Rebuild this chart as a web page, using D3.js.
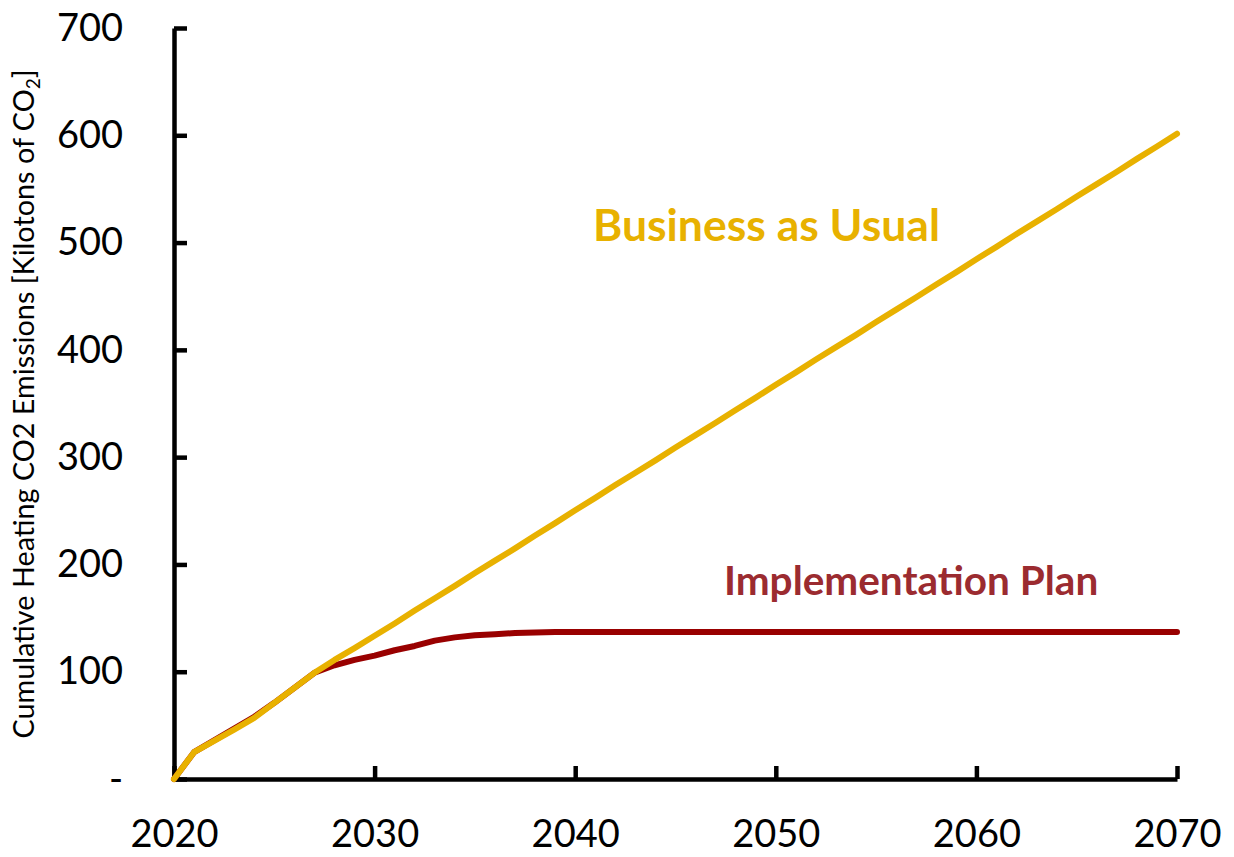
<!DOCTYPE html>
<html>
<head>
<meta charset="utf-8">
<script src="https://cdn.jsdelivr.net/npm/d3@7"></script>
<style>
  html, body { margin: 0; padding: 0; background: #fff; }
  svg { display: block; }
  text { font-family: Lato, "Open Sans", sans-serif; }
</style>
</head>
<body>
<svg id="chart" width="1234" height="857"></svg>
<script>
// ---- data ----
const years = d3.range(2020, 2071);
const businessAsUsual = [
  0, 25, 35.5, 46, 57, 71, 85, 99, 111, 122,
  133.5, 145, 157, 168.5, 180, 192, 203.5, 215, 227, 238.5,
  250.5, 262, 274, 285.5, 297, 309, 320.5, 332, 344, 355.5,
  367.5, 379, 391, 402.5, 414, 426, 437.5, 449, 461, 472.5,
  484.5, 496, 508, 519.5, 531, 543, 554.5, 566, 578, 589.5,
  601.5
];
const implementationPlan = [
  0, 25, 36, 47, 58, 71, 85, 99, 106, 111,
  115, 120, 124, 129, 132, 134, 135, 136, 136.5, 137,
  137, 137, 137, 137, 137, 137, 137, 137, 137, 137,
  137, 137, 137, 137, 137, 137, 137, 137, 137, 137,
  137, 137, 137, 137, 137, 137, 137, 137, 137, 137,
  137
];
const yTicks = [0, 100, 200, 300, 400, 500, 600, 700];
const yTickLabels = ["-", "100", "200", "300", "400", "500", "600", "700"];
const xTicks = [2020, 2030, 2040, 2050, 2060, 2070];
const seriesNames = ["Business as Usual", "Implementation Plan"];
const yTitle = "Cumulative Heating CO2 Emissions [Kilotons of CO";
const yTitleSub = "2";

// ---- layout ----
const svg = d3.select("#chart");
const x = d3.scaleLinear().domain([2020, 2070]).range([174, 1177]);
const y = d3.scaleLinear().domain([0, 700]).range([779, 28]);

// axes
const yAxis = d3.axisLeft(y)
  .tickValues(yTicks)
  .tickFormat((d, i) => yTickLabels[i])
  .tickSize(-13).tickSizeOuter(0).tickPadding(51);
const xAxis = d3.axisBottom(x)
  .tickValues(xTicks)
  .tickFormat(d3.format("d"))
  .tickSize(-13).tickSizeOuter(0).tickPadding(41);

const gy = svg.append("g").attr("transform", "translate(174,0)").call(yAxis);
const gx = svg.append("g").attr("transform", "translate(0,779)").call(xAxis);

[gx, gy].forEach(g => {
  g.select(".domain").attr("stroke", "#000").attr("stroke-width", 4.5);
  g.selectAll(".tick line").attr("stroke", "#000").attr("stroke-width", 4.5);
  g.selectAll(".tick text").attr("fill", "#000").attr("font-size", 38)
    .style("font-family", "Lato, 'Open Sans', sans-serif");
});

// y title
const title = svg.append("text")
  .attr("transform", "translate(34,404) rotate(-90)")
  .attr("text-anchor", "middle")
  .attr("font-size", 28.8)
  .attr("fill", "#000");
title.append("tspan").text(yTitle);
title.append("tspan").attr("dy", 6).attr("font-size", 19).text(yTitleSub);
title.append("tspan").attr("dy", -6).text("]");

// lines
const line = d3.line().x((d, i) => x(years[i])).y(d => y(d));
svg.append("path").datum(implementationPlan)
  .attr("d", line).attr("fill", "none")
  .attr("stroke", "#990000").attr("stroke-width", 6)
  .attr("stroke-linejoin", "round").attr("stroke-linecap", "round");
svg.append("path").datum(businessAsUsual)
  .attr("d", line).attr("fill", "none")
  .attr("stroke", "#E8B100").attr("stroke-width", 6)
  .attr("stroke-linejoin", "round").attr("stroke-linecap", "round");

// series labels
svg.append("text").attr("x", 593).attr("y", 241)
  .attr("font-size", 44.5).attr("font-weight", "bold").attr("fill", "#E8B100")
  .text(seriesNames[0]);
svg.append("text").attr("x", 724).attr("y", 595)
  .attr("font-size", 40.5).attr("font-weight", "bold").attr("fill", "#9B2B30")
  .text(seriesNames[1]);
</script>
</body>
</html>
